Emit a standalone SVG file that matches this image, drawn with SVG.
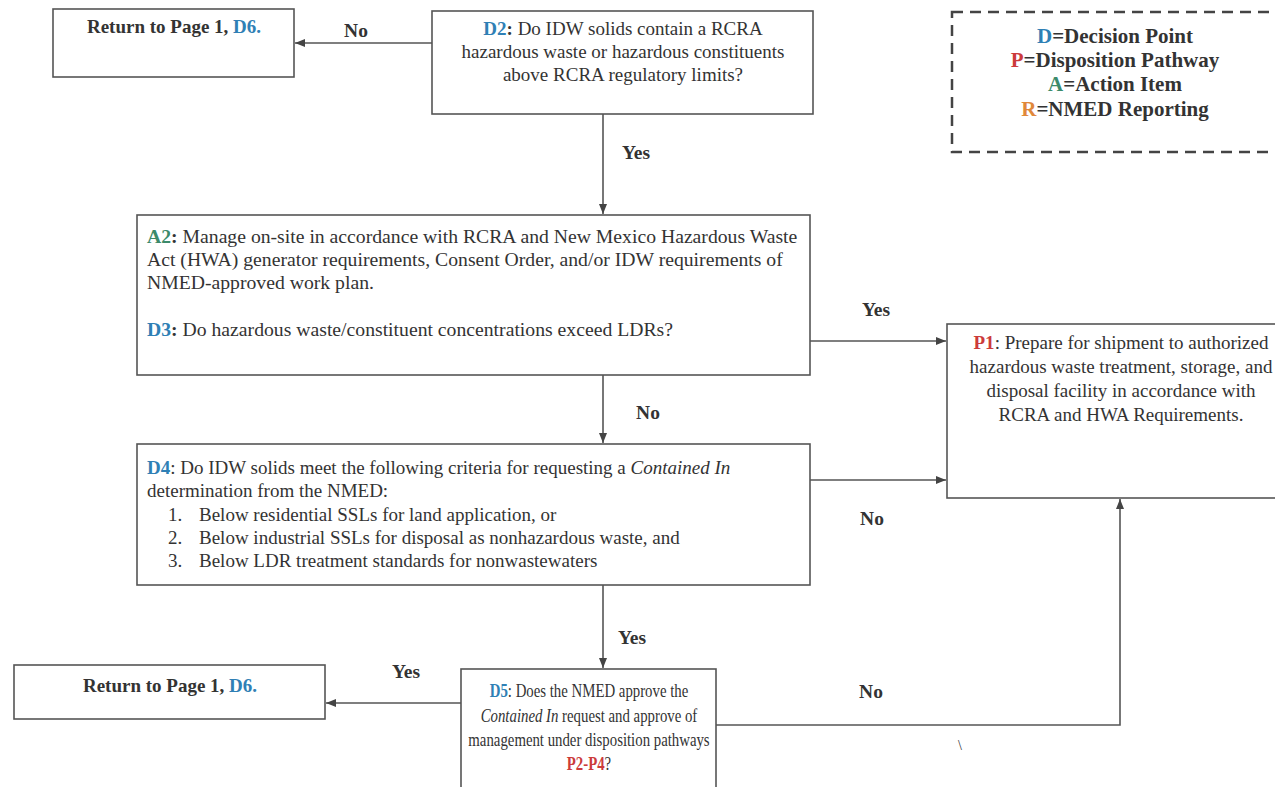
<svg xmlns="http://www.w3.org/2000/svg" width="1275" height="787" viewBox="0 0 1275 787">
<defs>
<marker id="ah" markerWidth="10" markerHeight="8" refX="10" refY="4" orient="auto" markerUnits="userSpaceOnUse">
<path d="M0,0 L10,4 L0,8 Z" fill="#444"/>
</marker>
<style>
.box{fill:#fff;stroke:#555;stroke-width:1.6}
.t{font-family:"Liberation Serif","Times New Roman",serif;font-size:19px;fill:#333}
.a2{font-size:19.7px}
.lg{font-size:21px}
.b{font-weight:bold}
.c{text-anchor:middle}
.lbl{font-family:"Liberation Serif","Times New Roman",serif;font-size:19.5px;font-weight:bold;fill:#333;text-anchor:middle}
.D{fill:#2f80b5;font-weight:bold}
.P{fill:#cc3b3b;font-weight:bold}
.A{fill:#3c8a6a;font-weight:bold}
.R{fill:#e0883a;font-weight:bold}
.ln{fill:none;stroke:#555;stroke-width:1.6}
</style>
</defs>
<rect width="1275" height="787" fill="#fff"/>

<g id="return1">
<rect class="box" x="53" y="9" width="241" height="68"/>
<text class="t b c" x="174" y="33">Return to Page 1, <tspan class="D">D6.</tspan></text>
</g>

<g id="d2">
<rect class="box" x="432" y="11" width="381" height="103"/>
<text class="t c" x="623" y="35"><tspan class="D">D2</tspan><tspan class="b">:</tspan> Do IDW solids contain a RCRA</text>
<text class="t c" x="623" y="58">hazardous waste or hazardous constituents</text>
<text class="t c" x="623" y="81">above RCRA regulatory limits?</text>
</g>

<g id="legend">
<rect x="952" y="12" width="340" height="140" fill="none" stroke="#444" stroke-width="2.5" stroke-dasharray="11,7"/>
<text class="t lg b c" x="1115" y="43"><tspan class="D">D</tspan>=Decision Point</text>
<text class="t lg b c" x="1115" y="67"><tspan class="P">P</tspan>=Disposition Pathway</text>
<text class="t lg b c" x="1115" y="91"><tspan class="A">A</tspan>=Action Item</text>
<text class="t lg b c" x="1115" y="116"><tspan class="R">R</tspan>=NMED Reporting</text>
</g>

<g id="a2d3">
<rect class="box" x="137" y="215" width="673" height="160"/>
<text class="t a2" x="147" y="243"><tspan class="A">A2</tspan><tspan class="b">:</tspan>  Manage on-site in accordance with RCRA and New Mexico Hazardous Waste</text>
<text class="t a2" x="147" y="266">Act (HWA) generator requirements, Consent Order, and/or IDW requirements of</text>
<text class="t a2" x="147" y="289">NMED-approved work plan.</text>
<text class="t a2" x="147" y="336"><tspan class="D">D3</tspan><tspan class="b">:</tspan> Do hazardous waste/constituent concentrations exceed LDRs?</text>
</g>

<g id="p1">
<rect class="box" x="947" y="324" width="340" height="174"/>
<text class="t c" x="1121" y="349"><tspan class="P">P1</tspan>: Prepare for shipment to authorized</text>
<text class="t c" x="1121" y="373">hazardous waste treatment, storage, and</text>
<text class="t c" x="1121" y="397">disposal facility in accordance with</text>
<text class="t c" x="1121" y="421">RCRA and HWA Requirements.</text>
</g>

<g id="d4">
<rect class="box" x="137" y="444" width="673" height="141"/>
<text class="t" x="147" y="474"><tspan class="D">D4</tspan>: Do IDW solids meet the following criteria for requesting a <tspan font-style="italic">Contained In</tspan></text>
<text class="t" x="147" y="497">determination from the NMED:</text>
<text class="t" x="168" y="521">1.</text>
<text class="t" x="199" y="521">Below residential SSLs for land application, or</text>
<text class="t" x="168" y="544">2.</text>
<text class="t" x="199" y="544">Below industrial SSLs for disposal as nonhazardous waste, and</text>
<text class="t" x="168" y="567">3.</text>
<text class="t" x="199" y="567">Below LDR treatment standards for nonwastewaters</text>
</g>

<g id="d5">
<rect class="box" x="461" y="669" width="255" height="125"/>
<g transform="translate(589,0) scale(0.78,1)">
<text class="t c" x="0" y="697"><tspan class="D">D5</tspan>: Does the NMED approve the</text>
<text class="t c" x="0" y="722"><tspan font-style="italic">Contained In</tspan> request and approve of</text>
<text class="t c" x="0" y="746">management under disposition pathways</text>
<text class="t c" x="0" y="770"><tspan class="P">P2-P4</tspan>?</text>
</g>
</g>

<g id="return2">
<rect class="box" x="14" y="665" width="311" height="54"/>
<text class="t b c" x="170" y="692">Return to Page 1, <tspan class="D">D6.</tspan></text>
</g>

<g id="connectors">
<line class="ln" x1="432" y1="43" x2="295" y2="43" marker-end="url(#ah)"/>
<line class="ln" x1="603" y1="114" x2="603" y2="214" marker-end="url(#ah)"/>
<line class="ln" x1="810" y1="341" x2="946" y2="341" marker-end="url(#ah)"/>
<line class="ln" x1="603" y1="375" x2="603" y2="443" marker-end="url(#ah)"/>
<line class="ln" x1="810" y1="480" x2="946" y2="480" marker-end="url(#ah)"/>
<line class="ln" x1="603" y1="585" x2="603" y2="668" marker-end="url(#ah)"/>
<line class="ln" x1="461" y1="703" x2="326" y2="703" marker-end="url(#ah)"/>
<polyline class="ln" points="716,725 1120,725 1120,499" marker-end="url(#ah)"/>
<text class="lbl" x="356" y="37">No</text>
<text class="lbl" x="636" y="159">Yes</text>
<text class="lbl" x="876" y="316">Yes</text>
<text class="lbl" x="648" y="419">No</text>
<text class="lbl" x="872" y="525">No</text>
<text class="lbl" x="632" y="644">Yes</text>
<text class="lbl" x="406" y="678">Yes</text>
<text class="lbl" x="871" y="698">No</text>
<text class="t" x="958" y="750" style="font-size:14px">\</text>
</g>
</svg>
